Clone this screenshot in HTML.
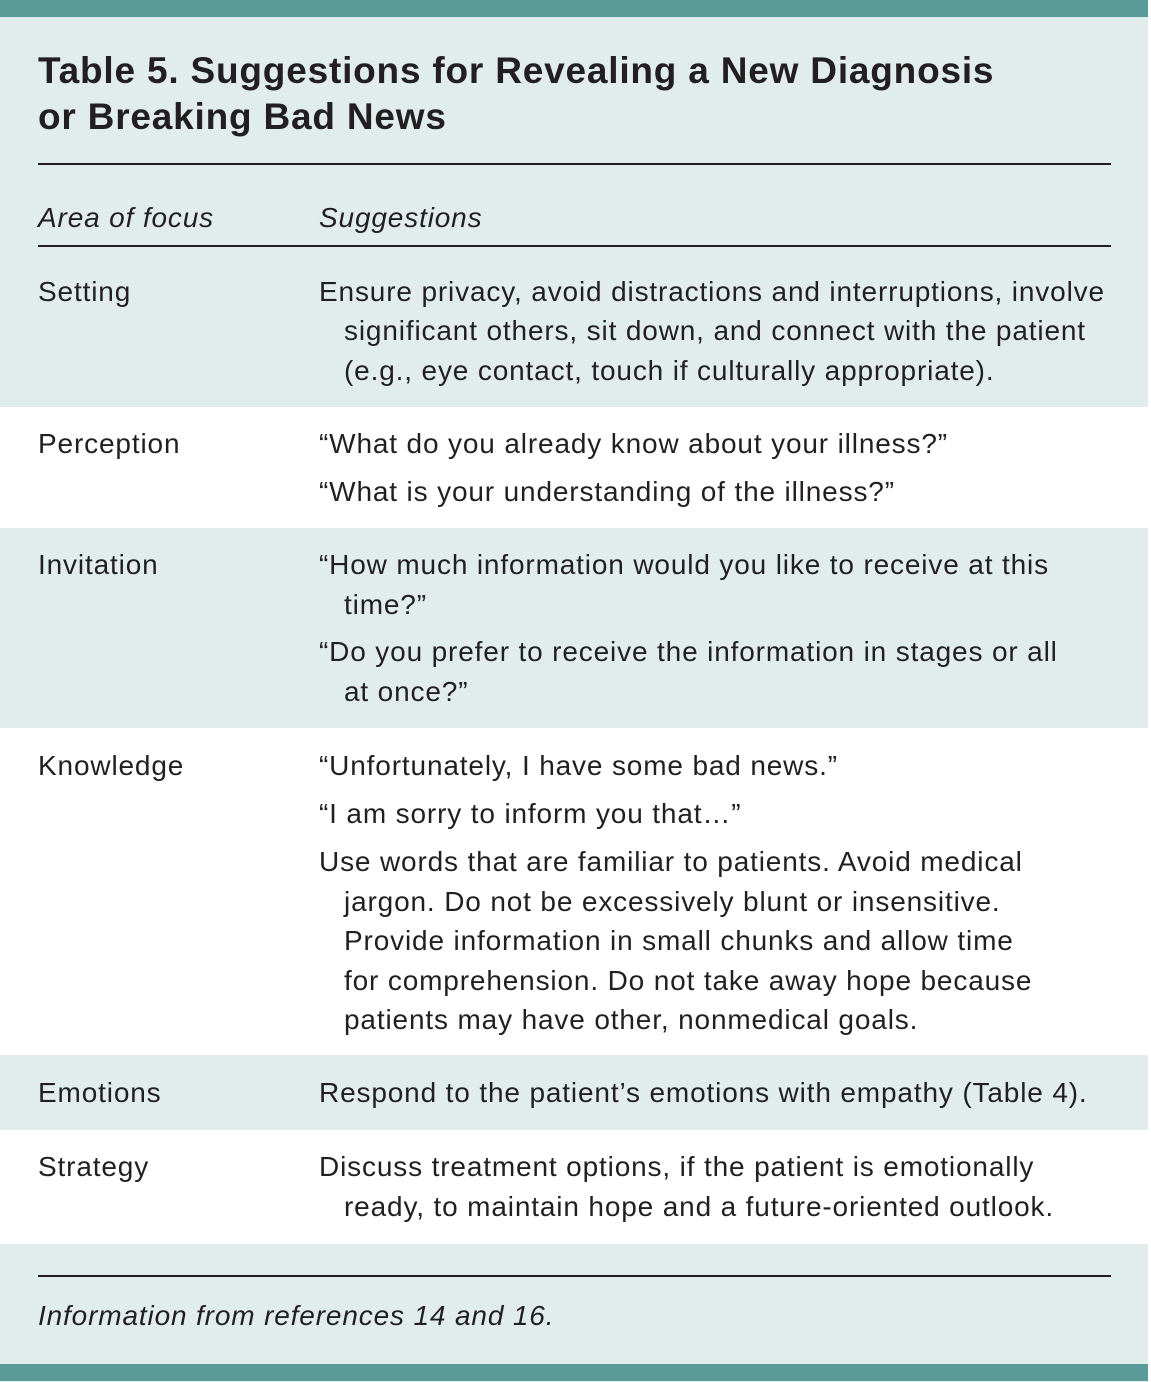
<!DOCTYPE html>
<html><head><meta charset="utf-8"><style>
body{margin:0;width:1151px;height:1382px;position:relative;background:#fff;overflow:hidden;font-family:"Liberation Sans",sans-serif;color:#231f20}
.bg{position:absolute;left:0;top:0;width:1148px;height:1382px;background:#e1eded}
.bar{position:absolute;left:0;width:1148px;height:17px;background:#5a9a98}
.w{position:absolute;left:0;width:1148px;background:#fff}
.rule{position:absolute;left:38px;width:1073px;height:2px;background:#231f20}
.t{position:absolute;white-space:nowrap;font-size:28px;line-height:40px;letter-spacing:0.85px}
.h{position:absolute;left:38px;font-weight:bold;font-size:37px;line-height:46px;white-space:nowrap;color:#231f20;letter-spacing:0.8px}
i{font-style:italic}
</style></head><body>
<div class="bg"></div>
<div class="bar" style="top:0"></div>
<div class="bar" style="top:1364px"></div>
<div class="w" style="top:407px;height:121px"></div>
<div class="w" style="top:728px;height:327px"></div>
<div class="w" style="top:1130px;height:114px"></div>

<div class="h" style="top:48px">Table 5. Suggestions for Revealing a New Diagnosis</div>
<div class="h" style="top:94px">or Breaking Bad News</div>
<div class="rule" style="top:163px"></div>
<div class="t" style="left:38px;top:198px"><i>Area of focus</i></div>
<div class="t" style="left:319px;top:198px"><i>Suggestions</i></div>
<div class="rule" style="top:245px"></div>

<div class="t" style="left:38px;top:272px">Setting</div>
<div class="t" style="left:319px;top:272px">Ensure privacy, avoid distractions and interruptions, involve</div>
<div class="t" style="left:344px;top:311px">significant others, sit down, and connect with the patient</div>
<div class="t" style="left:344px;top:351px">(e.g., eye contact, touch if culturally appropriate).</div>

<div class="t" style="left:38px;top:424px">Perception</div>
<div class="t" style="left:319px;top:424px">“What do you already know about your illness?”</div>
<div class="t" style="left:319px;top:472px">“What is your understanding of the illness?”</div>

<div class="t" style="left:38px;top:545px">Invitation</div>
<div class="t" style="left:319px;top:545px">“How much information would you like to receive at this</div>
<div class="t" style="left:344px;top:585px">time?”</div>
<div class="t" style="left:319px;top:632px">“Do you prefer to receive the information in stages or all</div>
<div class="t" style="left:344px;top:672px">at once?”</div>

<div class="t" style="left:38px;top:746px">Knowledge</div>
<div class="t" style="left:319px;top:746px">“Unfortunately, I have some bad news.”</div>
<div class="t" style="left:319px;top:794px">“I am sorry to inform you that…”</div>
<div class="t" style="left:319px;top:842px">Use words that are familiar to patients. Avoid medical</div>
<div class="t" style="left:344px;top:882px">jargon. Do not be excessively blunt or insensitive.</div>
<div class="t" style="left:344px;top:921px">Provide information in small chunks and allow time</div>
<div class="t" style="left:344px;top:961px">for comprehension. Do not take away hope because</div>
<div class="t" style="left:344px;top:1000px">patients may have other, nonmedical goals.</div>

<div class="t" style="left:38px;top:1073px">Emotions</div>
<div class="t" style="left:319px;top:1073px">Respond to the patient’s emotions with empathy (Table 4).</div>

<div class="t" style="left:38px;top:1147px">Strategy</div>
<div class="t" style="left:319px;top:1147px">Discuss treatment options, if the patient is emotionally</div>
<div class="t" style="left:344px;top:1187px">ready, to maintain hope and a future-oriented outlook.</div>

<div class="rule" style="top:1275px"></div>
<div class="t" style="left:38px;top:1296px"><i>Information from references 14 and 16.</i></div>
</body></html>
